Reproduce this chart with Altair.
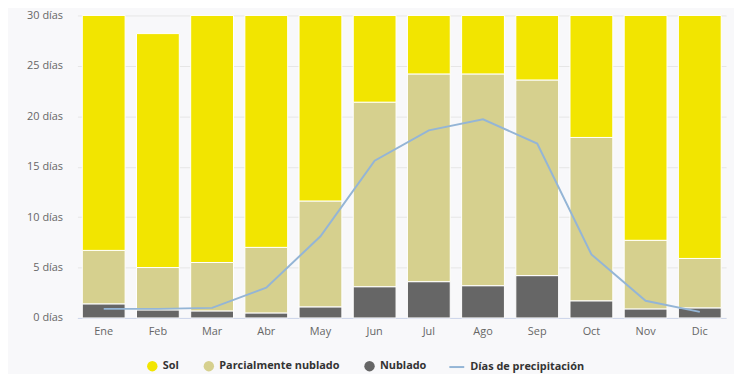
import altair as alt
import pandas as pd

months = ["Ene", "Feb", "Mar", "Abr", "May", "Jun", "Jul", "Ago", "Sep", "Oct", "Nov", "Dic"]
nublado = [1.4, 0.8, 0.7, 0.5, 1.1, 3.1, 3.6, 3.2, 4.2, 1.7, 0.9, 1.0]
parcial = [5.3, 4.2, 4.8, 6.5, 10.5, 18.3, 20.6, 21.0, 19.4, 16.2, 6.8, 4.9]
sol = [23.3, 23.2, 24.5, 23.0, 18.4, 8.6, 5.8, 5.8, 6.4, 12.1, 22.3, 24.1]
precip = [0.9, 0.9, 1.0, 3.0, 8.1, 15.6, 18.6, 19.7, 17.3, 6.3, 1.7, 0.6]

series = ["Sol", "Parcialmente nublado", "Nublado"]
colors = ["#f2e500", "#d6d08e", "#666666"]
order_map = {"Nublado": 0, "Parcialmente nublado": 1, "Sol": 2}

rows = []
for i, m in enumerate(months):
    for name, vals in (("Nublado", nublado), ("Parcialmente nublado", parcial), ("Sol", sol)):
        rows.append({"mes": m, "serie": name, "dias": vals[i], "ord": order_map[name]})
bars_df = pd.DataFrame(rows)
line_df = pd.DataFrame({"mes": months, "precip": precip, "serie": "Días de precipitación"})

xscale = alt.Scale(domain=months, paddingInner=0.21, paddingOuter=0.09)
yscale = alt.Scale(domain=[0, 30], nice=False)

xaxis = alt.Axis(title=None, labelAngle=0, ticks=False, domainColor="#ccd6eb",
                 labelColor="#666666", labelFontSize=11, labelFont="Open Sans",
                 labelPadding=8, grid=False)
yaxis = alt.Axis(title=None, values=[0, 5, 10, 15, 20, 25, 30], labelExpr="datum.value + ' días'",
                 ticks=False, domain=False, labelColor="#666666", labelFontSize=11,
                 labelFont="Open Sans", labelPadding=15, gridColor="#e6e6e6")

bars = alt.Chart(bars_df).mark_bar(stroke="white", strokeWidth=1).encode(
    x=alt.X("mes:N", scale=xscale, axis=xaxis, sort=months),
    y=alt.Y("dias:Q", stack="zero", scale=yscale, axis=yaxis),
    color=alt.Color("serie:N", scale=alt.Scale(domain=series, range=colors),
                    legend=alt.Legend(title=None, orient="none", legendX=70, legendY=348,
                                      direction="horizontal", symbolType="circle",
                                      symbolSize=110, symbolStrokeWidth=0,
                                      labelFont="Open Sans", labelFontSize=11,
                                      labelFontWeight="bold", labelColor="#333333",
                                      labelOffset=5, columnPadding=24)),
    order=alt.Order("ord:Q"),
)

line = alt.Chart(line_df).mark_line(strokeWidth=2).encode(
    x=alt.X("mes:N", scale=xscale, sort=months),
    y=alt.Y("precip:Q", scale=yscale),
    stroke=alt.Stroke("serie:N", scale=alt.Scale(domain=["Días de precipitación"], range=["#94b5d6"]),
                      legend=alt.Legend(title=None, orient="none", legendX=374, legendY=346,
                                        symbolType="stroke", symbolSize=225, symbolStrokeWidth=2,
                                        labelFont="Open Sans", labelFontSize=11,
                                        labelFontWeight="bold", labelColor="#333333",
                                        labelOffset=5)),
)

chart = alt.layer(bars, line).resolve_scale(color="independent", stroke="independent").properties(
    width=654, height=305, autosize="none",
    padding={"left": 70, "top": 6, "right": 8, "bottom": 55},
    background="#f8f8fa",
).configure_view(stroke=None)

chart.save("out.html", embed_options={"renderer": "svg", "actions": False})
